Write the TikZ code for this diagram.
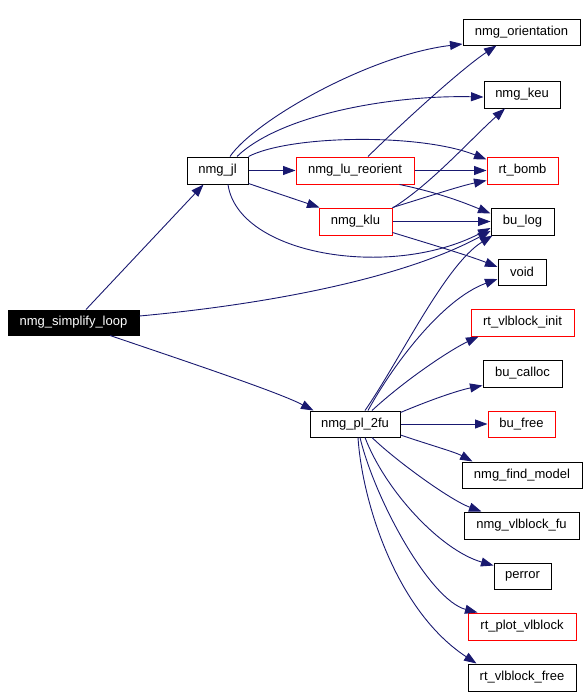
\documentclass[tikz,border=0pt]{standalone}
\usepackage{fontspec}
\setmainfont{Liberation Sans}
\usetikzlibrary{arrows.meta}
\definecolor{edgec}{HTML}{191970}
\begin{document}
\begin{tikzpicture}[x=1pt,y=-1pt,
  box/.style={draw=black, fill=white, line width=1pt, inner sep=0pt,
    minimum height=26pt, font=\fontsize{13}{13}\selectfont, anchor=center},
  redbox/.style={box, draw=red},
  rootbox/.style={box, fill=black, text=white, minimum height=25pt},
  edge/.style={draw=edgec, line width=0.9pt, -{Triangle[length=12.5pt,width=9pt]}},
]
\useasboundingbox (0,0) rectangle (587,696);

% nodes
\node[rootbox, minimum width=131pt] (sl) at (73.5,322.5) {nmg\_simplify\_loop};
\node[box, minimum width=61pt, minimum height=27pt] (jl) at (217.5,170.5) {nmg\_jl};
\node[redbox, minimum width=118pt, minimum height=27pt] (lu) at (355,170.5) {nmg\_lu\_reorient};
\node[redbox, minimum width=73pt, minimum height=27pt] (klu) at (355.5,221.5) {nmg\_klu};
\node[box, minimum width=90pt] (pl) at (355,424) {nmg\_pl\_2fu};
\node[box, minimum width=117pt] (ori) at (521.5,32) {nmg\_orientation};
\node[box, minimum width=76pt, minimum height=27pt] (keu) at (522,94.5) {nmg\_keu};
\node[redbox, minimum width=71pt, minimum height=27pt] (bomb) at (522.5,170.5) {rt\_bomb};
\node[box, minimum width=63pt, minimum height=27pt] (bulog) at (522.5,221.5) {bu\_log};
\node[box, minimum width=48pt] (void) at (522,272) {void};
\node[redbox, minimum width=103pt, minimum height=27pt] (vinit) at (522.5,322.5) {rt\_vlblock\_init};
\node[box, minimum width=79pt, minimum height=27pt] (calloc) at (522.5,373.5) {bu\_calloc};
\node[redbox, minimum width=67pt] (free) at (521.5,424) {bu\_free};
\node[box, minimum width=120pt] (find) at (522,475) {nmg\_find\_model};
\node[box, minimum width=115pt, minimum height=27pt] (vfu) at (521.5,525.5) {nmg\_vlblock\_fu};
\node[box, minimum width=57pt] (perror) at (522.5,576) {perror};
\node[redbox, minimum width=108pt, minimum height=27pt] (plot) at (522,626.5) {rt\_plot\_vlblock};
\node[box, minimum width=108pt, minimum height=27pt] (vfree) at (522,677.5) {rt\_vlblock\_free};

% edges from nmg_simplify_loop
\draw[edge] ([xshift=12.5pt]sl.north) -- ([xshift=-14pt]jl.south);
\draw[edge] ([yshift=6.5pt]sl.east) .. controls (260,305) and (400,280) .. ([yshift=-9.5pt]bulog.west);
\draw[edge] ([xshift=36.5pt]sl.south) .. controls (200,366) and (280,393) .. ([xshift=4pt]pl.north west);

% edges from nmg_jl
\draw[edge] ([xshift=12.5pt]jl.north) .. controls (255,120) and (370,55) .. ([yshift=-12pt]ori.west);
\draw[edge] ([xshift=19.5pt]jl.north) .. controls (280,115) and (390,95) .. ([yshift=-2.5pt]keu.west);
\draw[edge] (jl.north east) .. controls (290,135) and (420,133) .. ([yshift=11pt]bomb.west);
\draw[edge] (jl.east) -- (lu.west);
\draw[edge] ([yshift=1pt]jl.south east) -- ([xshift=1pt]klu.north west);
\draw[edge] ([xshift=10.5pt]jl.south) .. controls (238,255) and (390,280) .. ([yshift=-6.5pt]bulog.west);

% edges from nmg_lu_reorient
\draw[edge] ([xshift=13pt]lu.north) .. controls (400,125) and (460,70) .. ([xshift=-25pt]ori.south);
\draw[edge] (lu.east) -- (bomb.west);
\draw[edge] ([xshift=-15pt]lu.south east) .. controls (440,193) and (465,203) .. ([yshift=8pt]bulog.west);

% edges from nmg_klu
\draw[edge] ([yshift=-0.5pt]klu.north east) .. controls (430,185) and (470,140) .. ([xshift=-17pt]keu.south);
\draw[edge] (klu.north east) .. controls (430,196) and (460,186) .. ([yshift=-10pt]bomb.west);
\draw[edge] (klu.east) -- (bulog.west);
\draw[edge] ([yshift=-11pt]klu.east) .. controls (430,244) and (470,256) .. ([yshift=5pt]void.west);

% edges from nmg_pl_2fu
\draw[edge] ([xshift=10pt]pl.north) .. controls (400,360) and (445,265) .. ([xshift=2pt]bulog.south west);
\draw[edge] ([xshift=13pt]pl.north) .. controls (390,370) and (440,300) .. ([yshift=-7pt]void.west);
\draw[edge] ([xshift=17pt]pl.north) .. controls (405,380) and (450,350) .. ([xshift=8pt]vinit.south west);
\draw[edge] ([yshift=-2pt]pl.north east) .. controls (435,398) and (460,390) .. ([yshift=-12pt]calloc.west);
\draw[edge] (pl.east) -- (free.west);
\draw[edge] ([yshift=-11pt]pl.east) .. controls (430,445) and (455,452) .. ([xshift=11pt]find.north west);
\draw[edge] ([xshift=17pt]pl.south) .. controls (395,460) and (450,500) .. ([xshift=18pt]vfu.north west);
\draw[edge] ([xshift=10pt]pl.south) .. controls (385,490) and (440,550) .. ([yshift=-3pt]perror.north west);
\draw[edge] ([xshift=5pt]pl.south) .. controls (375,500) and (430,600) .. ([xshift=10pt]plot.north west);
\draw[edge] ([xshift=3pt]pl.south) .. controls (362,500) and (395,610) .. ([xshift=9pt]vfree.north west);
\end{tikzpicture}
\end{document}
